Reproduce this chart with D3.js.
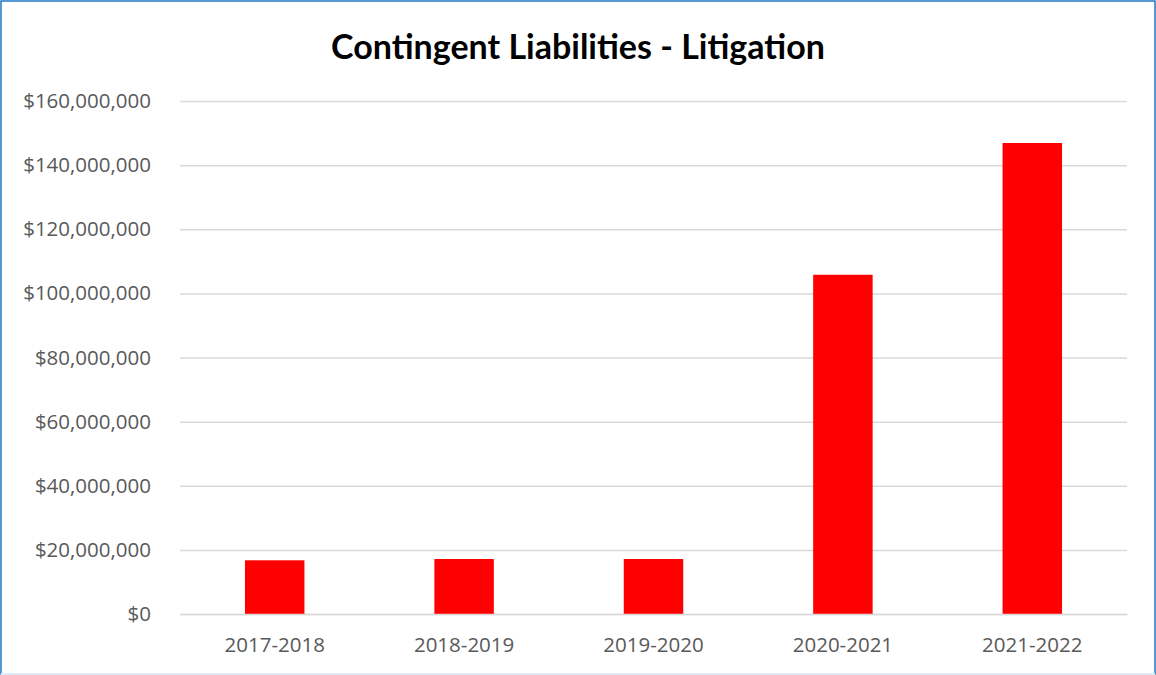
<!DOCTYPE html>
<html>
<head>
<script src="https://d3js.org/d3.v7.min.js"></script>
<style>
  body { margin: 0; background: #fff; }
  svg { display: block; }
</style>
</head>
<body>
<svg></svg>
<script>
var years = ["2017-2018", "2018-2019", "2019-2020", "2020-2021", "2021-2022"];
var amounts = [16750000, 17150000, 17150000, 105800000, 146900000];
var yTicks = [0, 20000000, 40000000, 60000000, 80000000, 100000000, 120000000, 140000000, 160000000];

var W = 1156, H = 675;
var margin = {top: 101, right: 29, bottom: 61, left: 180};
var width = W - margin.left - margin.right,
    height = H - margin.top - margin.bottom;

var svg = d3.select("svg").attr("width", W).attr("height", H);

// outer frame
svg.append("rect")
  .attr("x", 1).attr("y", 1)
  .attr("width", W - 2).attr("height", H - 2)
  .attr("fill", "#fff")
  .attr("stroke", "#1f77c9")
  .attr("stroke-width", 1.5);
svg.append("line")
  .attr("x1", 1).attr("x2", W - 1)
  .attr("y1", H - 1).attr("y2", H - 1)
  .attr("stroke", "#dcebf7").attr("stroke-width", 2);

svg.append("text")
  .attr("x", 578).attr("y", 59)
  .attr("text-anchor", "middle")
  .attr("font-family", "Lato, 'Open Sans', sans-serif")
  .attr("font-weight", "bold")
  .attr("font-size", "34px")
  .attr("fill", "#000")
  .text("Contingent Liabilities - Litigation");

var g = svg.append("g").attr("transform", "translate(" + margin.left + "," + margin.top + ")");

var x = d3.scaleBand().domain(years).range([0, width]).paddingInner(0.686).paddingOuter(0.343);
var y = d3.scaleLinear().domain([0, 160000000]).range([height, 0]);

var fmt = function(d) { return "$" + d3.format(",")(d); };

var yAxis = g.append("g")
  .call(d3.axisLeft(y).tickValues(yTicks).tickSize(-width).tickPadding(29).tickFormat(fmt));
yAxis.select(".domain").remove();
yAxis.selectAll("line").attr("stroke", "#d9d9d9").attr("stroke-width", 1.5);
yAxis.selectAll("text")
  .attr("fill", "#595959")
  .attr("font-family", "'Open Sans', sans-serif")
  .attr("font-size", "20.5px");

g.selectAll(".bar")
  .data(amounts)
  .enter().append("rect")
  .attr("class", "bar")
  .attr("x", function(d, i) { return x(years[i]); })
  .attr("width", x.bandwidth())
  .attr("y", function(d) { return y(d); })
  .attr("height", function(d) { return height - y(d); })
  .attr("fill", "#ff0000");

var xAxis = g.append("g")
  .attr("transform", "translate(0," + height + ")")
  .call(d3.axisBottom(x).tickSize(0).tickPadding(23));
xAxis.select(".domain").attr("stroke", "#d9d9d9").attr("stroke-width", 1.5);
xAxis.selectAll("text")
  .attr("fill", "#595959")
  .attr("font-family", "'Open Sans', sans-serif")
  .attr("font-size", "20.5px");
</script>
</body>
</html>
